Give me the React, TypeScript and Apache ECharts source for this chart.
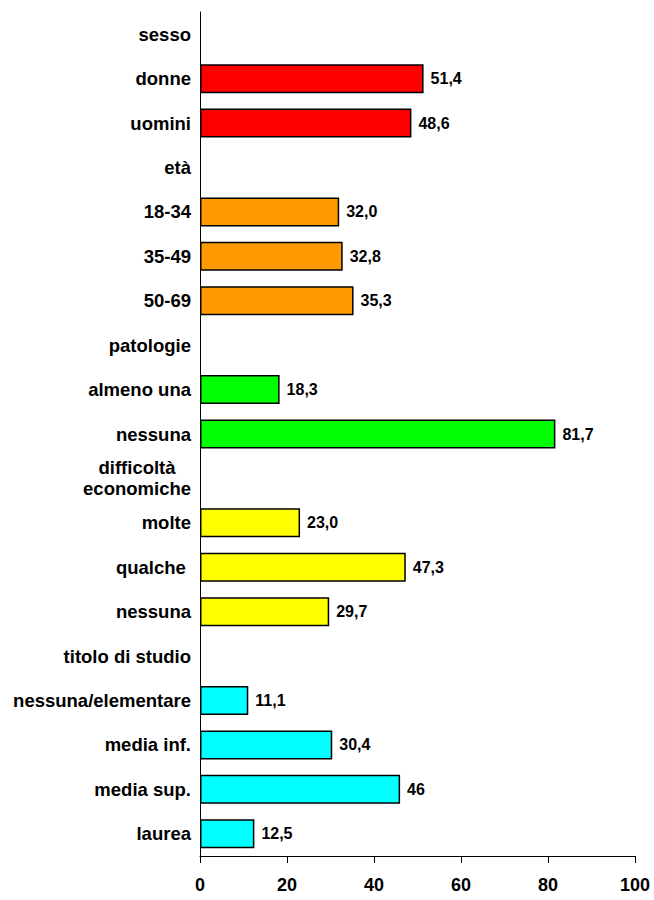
import React, { useEffect, useRef } from "react";
import * as echarts from "echarts";

const categories = [
  "sesso", "donne", "uomini",
  "età", "18-34", "35-49", "50-69",
  "patologie", "almeno una", "nessuna",
  "difficoltà\neconomiche", "molte", "qualche ", "nessuna",
  "titolo di studio", "nessuna/elementare", "media inf.", "media sup.", "laurea",
];
const values: (number | null)[] = [
  null, 51.4, 48.6,
  null, 32.0, 32.8, 35.3,
  null, 18.3, 81.7,
  null, 23.0, 47.3, 29.7,
  null, 11.1, 30.4, 46, 12.5,
];
const valueLabels = [
  "", "51,4", "48,6",
  "", "32,0", "32,8", "35,3",
  "", "18,3", "81,7",
  "", "23,0", "47,3", "29,7",
  "", "11,1", "30,4", "46", "12,5",
];
const groupColors = [
  "#FF0000", "#FF0000", "#FF0000",
  "#FF9900", "#FF9900", "#FF9900", "#FF9900",
  "#00FF00", "#00FF00", "#00FF00",
  "#FFFF00", "#FFFF00", "#FFFF00", "#FFFF00",
  "#00FFFF", "#00FFFF", "#00FFFF", "#00FFFF", "#00FFFF",
];
const xTicks = [0, 20, 40, 60, 80, 100];

const FONT = "'Liberation Sans', Arial, sans-serif";

export default function App() {
  const ref = useRef<HTMLDivElement>(null);
  useEffect(() => {
    document.body.style.margin = "0";
    const chart = echarts.init(ref.current!, null, { renderer: "svg" });
    chart.setOption({
      animation: false,
      backgroundColor: "#ffffff",
      grid: { left: 200, right: 19, top: 12, bottom: 44, containLabel: false },
      xAxis: {
        type: "value",
        min: xTicks[0],
        max: xTicks[xTicks.length - 1],
        interval: 20,
        axisLine: { show: true, lineStyle: { color: "#000", width: 1 } },
        axisTick: { show: true, length: 7, lineStyle: { color: "#000" } },
        splitLine: { show: false },
        axisLabel: {
          margin: 20,
          color: "#000",
          fontFamily: FONT,
          fontWeight: "bold",
          fontSize: 18,
        },
      },
      yAxis: {
        type: "category",
        inverse: true,
        data: categories,
        axisLine: { show: true, lineStyle: { color: "#000", width: 1 } },
        axisTick: { show: false },
        axisLabel: {
          margin: 9,
          color: "#000",
          fontFamily: FONT,
          fontWeight: "bold",
          fontSize: 18.5,
          lineHeight: 21,
          formatter: (v: string) =>
            v.indexOf("\n") >= 0
              ? v.split("\n").map((s) => "{c|" + s + "}").join("\n")
              : v,
          rich: {
            c: {
              align: "center",
              color: "#000",
              fontFamily: FONT,
              fontWeight: "bold",
              fontSize: 18.5,
              lineHeight: 21,
            },
          },
        },
      },
      series: [
        {
          type: "bar",
          barWidth: 29,
          data: values.map((v, i) => ({
            value: v,
            itemStyle: { color: groupColors[i], borderColor: "#000", borderWidth: 1.5 },
          })),
          label: {
            show: true,
            position: "right",
            distance: 7,
            color: "#000",
            fontFamily: FONT,
            fontWeight: "bold",
            fontSize: 16,
            formatter: (p: any) => valueLabels[p.dataIndex],
          },
        },
      ],
    });
    return () => chart.dispose();
  }, []);
  return <div ref={ref} style={{ width: 654, height: 900 }} />;
}
